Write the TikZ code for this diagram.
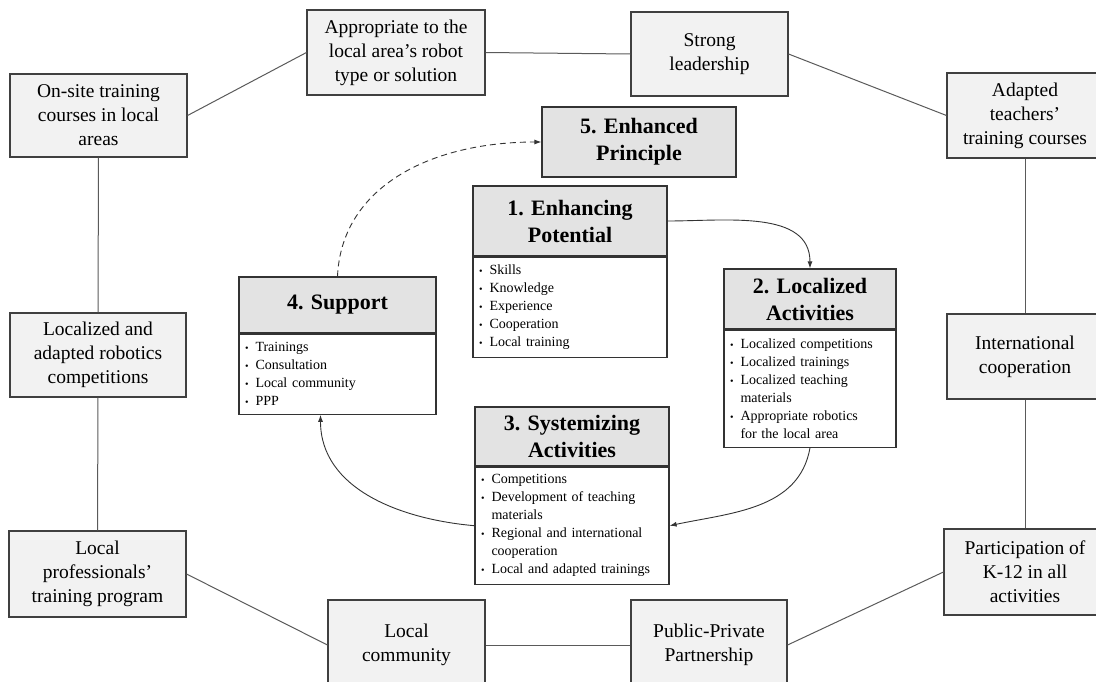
\documentclass[tikz,border=0pt]{standalone}
\usepackage{fontspec}
\setmainfont{Liberation Serif}
\usetikzlibrary{positioning,arrows.meta}
\definecolor{ringfill}{HTML}{F2F2F2}
\definecolor{headfill}{HTML}{E3E3E3}
\definecolor{edgegray}{HTML}{5A5A5A}
\newcommand{\bul}{{\fontsize{10}{18}\selectfont\textbullet}\enspace}
\newcommand{\bulc}{\hphantom{\bul}}

\begin{document}
\begin{tikzpicture}[
  x=1pt, y=-1pt,
  ring/.style 2 args={draw=black!75, fill=ringfill, line width=1.1pt, align=center, minimum width=#1pt, minimum height=#2pt, inner sep=2pt, font=\fontsize{19.5}{24}\selectfont},
  head/.style 2 args={draw=black!80, fill=headfill, line width=1.2pt, align=center, minimum width=#1pt, minimum height=#2pt, inner sep=2pt, font=\fontsize{22}{27}\selectfont\bfseries},
  body/.style 2 args={draw=black!80, fill=white, line width=1.2pt, align=left, text width=#1pt, minimum height=#2pt, inner xsep=6pt, font=\fontsize{14}{18}\selectfont},
  link/.style={edgegray, line width=1pt},
  flow/.style={-{Latex[length=7pt,width=5pt]}, black!80, line width=0.9pt}
]
\useasboundingbox (0,0) rectangle (1096,681);

\node[ring={178}{85}] (appr) at (396,52.5) {Appropriate to the\\local area’s robot\\type or solution};
\node[ring={157}{84}] (lead) at (709.5,54) {Strong\\leadership};
\node[ring={177}{83}] (onsite) at (98.5,115.5) {On-site training\\courses in local\\areas};
\node[ring={156}{85}] (adapt) at (1025,115.5) {Adapted\\teachers’\\training courses};
\node[ring={176}{84}] (loccomp) at (98,355) {Localized and\\adapted robotics\\competitions};
\node[ring={156}{85}] (intl) at (1025,356.5) {International\\cooperation};
\node[ring={177}{86}] (locprof) at (97.5,574) {Local\\professionals’\\training program};
\node[ring={162}{86}] (partic) at (1025,572) {Participation of\\K-12 in all\\activities};
\node[ring={157}{90}] (loccom) at (406.5,645) {Local\\community};
\node[ring={156}{90}] (ppp) at (709,645) {Public-Private\\Partnership};

\draw[link] (onsite.east) -- (appr.west);
\draw[link] (appr.east) -- (lead.west);
\draw[link] (lead.east) -- (adapt.west);
\draw[link] (adapt.south) -- (intl.north);
\draw[link] (intl.south) -- (partic.north);
\draw[link] (partic.west) -- (ppp.east);
\draw[link] (ppp.west) -- (loccom.east);
\draw[link] (loccom.west) -- (locprof.east);
\draw[link] (locprof.north) -- (loccomp.south);
\draw[link] (loccomp.north) -- (onsite.south);

\node[head={194}{70}] (enh) at (639,142) {5. Enhanced\\Principle};

\node[head={194}{70}] (hdr1) at (570,221) {1. Enhancing\\Potential};
\node[body={182}{100}, below=0pt of hdr1] (body1) {\bul Skills\\\bul Knowledge\\\bul Experience\\\bul Cooperation\\\bul Local training};

\node[head={172}{60}] (hdr2) at (810,299) {2. Localized\\Activities};
\node[body={160}{117}, below=0pt of hdr2] (body2) {\bul Localized competitions\\\bul Localized trainings\\\bul Localized teaching\\\bulc materials\\\bul Appropriate robotics\\\bulc for the local area};

\node[head={194}{59}] (hdr3) at (572,436.5) {3. Systemizing\\Activities};
\node[body={182}{117}, below=0pt of hdr3] (body3) {\bul Competitions\\\bul Development of teaching\\\bulc materials\\\bul Regional and international\\\bulc cooperation\\\bul Local and adapted trainings};

\node[head={197}{56}] (hdr4) at (337.5,305) {4. Support};
\node[body={185}{80}, below=0pt of hdr4] (body4) {\bul Trainings\\\bul Consultation\\\bul Local community\\\bul PPP};

\draw[flow] (hdr1.east) to[out=0, in=90] (hdr2.north);
\draw[flow] (body2.south) to[out=-100, in=12] (body3.east);
\draw[flow] (body3.west) to[out=175, in=-90] ([xshift=-17pt]body4.south);
\draw[flow, dash pattern=on 6pt off 4pt] (hdr4.north) .. controls +(4,-90) and +(-110,0) .. (enh.west);
\end{tikzpicture}
\end{document}
